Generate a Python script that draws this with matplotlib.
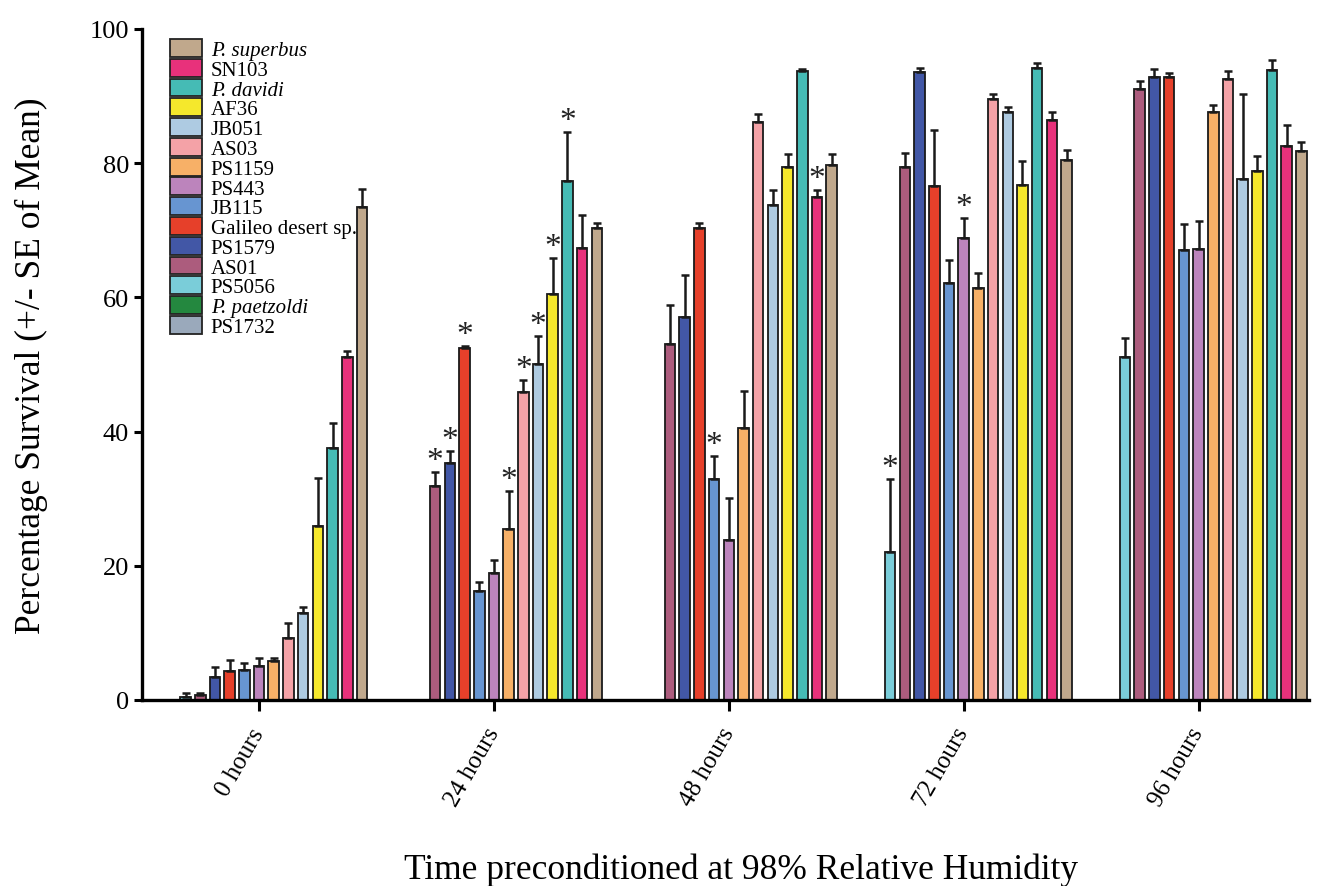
import numpy as np
import matplotlib.pyplot as plt
from matplotlib.patches import Patch

plt.rcParams['font.family'] = ['Liberation Serif', 'DejaVu Serif']

# 时间点
times = ['0 hours', '24 hours', '48 hours', '72 hours', '96 hours']

# 图例顺序（从上到下）
strains = ['P. superbus', 'SN103', 'P. davidi', 'AF36', 'JB051', 'AS03', 'PS1159',
           'PS443', 'JB115', 'Galileo desert sp.', 'PS1579', 'AS01', 'PS5056',
           'P. paetzoldi', 'PS1732']
colors = ['#C0A88C', '#E8317B', '#45BBB5', '#F5E82C', '#AECBE2', '#F4A2A7', '#F7B067',
          '#BC84BC', '#6795D1', '#E6402A', '#4257A6', '#AC5C7D', '#7ACDD9',
          '#24883F', '#9AA9BB']

nan = np.nan
# 平均存活率 (%)
surv_superbus = [73.4, 70.3, 79.7, 80.5, 81.8]
surv_sn103 = [51.1, 67.3, 75.0, 86.4, 82.6]
surv_davidi = [37.6, 77.3, 93.7, 94.2, 93.9]
surv_af36 = [25.9, 60.5, 79.4, 76.7, 78.8]
surv_jb051 = [12.9, 50.1, 73.8, 87.6, 77.7]
surv_as03 = [9.2, 45.9, 86.2, 89.6, 92.5]
surv_ps1159 = [5.8, 25.5, 40.6, 61.4, 87.6]
surv_ps443 = [5.1, 19.0, 23.9, 68.9, 67.2]
surv_jb115 = [4.5, 16.2, 33.0, 62.2, 67.0]
surv_galileo = [4.3, 52.5, 70.4, 76.6, 92.8]
surv_ps1579 = [3.5, 35.3, 57.1, 93.6, 92.9]
surv_as01 = [0.75, 31.9, 53.0, 79.5, 91.1]
surv_ps5056 = [0.5, nan, nan, 22.1, 51.1]
surv_paetzoldi = [nan, nan, nan, nan, nan]
surv_ps1732 = [nan, nan, nan, nan, nan]

# 标准误
se_superbus = [2.7, 0.8, 1.7, 1.4, 1.3]
se_sn103 = [0.9, 5.0, 1.0, 1.2, 3.1]
se_davidi = [3.7, 7.4, 0.4, 0.8, 1.5]
se_af36 = [7.2, 5.3, 2.0, 3.6, 2.2]
se_jb051 = [0.9, 4.2, 2.2, 0.8, 12.6]
se_as03 = [2.3, 1.8, 1.1, 0.7, 1.2]
se_ps1159 = [0.5, 5.6, 5.4, 2.2, 1.0]
se_ps443 = [1.1, 1.9, 6.2, 2.9, 4.2]
se_jb115 = [1.0, 1.4, 3.4, 3.3, 4.0]
se_galileo = [1.6, 0.3, 0.7, 8.3, 0.7]
se_ps1579 = [1.4, 1.8, 6.2, 0.6, 1.1]
se_as01 = [0.3, 2.1, 5.8, 2.0, 1.1]
se_ps5056 = [0.5, nan, nan, 10.9, 2.8]
se_paetzoldi = [nan, nan, nan, nan, nan]
se_ps1732 = [nan, nan, nan, nan, nan]

survival = [surv_superbus, surv_sn103, surv_davidi, surv_af36, surv_jb051, surv_as03,
            surv_ps1159, surv_ps443, surv_jb115, surv_galileo, surv_ps1579, surv_as01,
            surv_ps5056, surv_paetzoldi, surv_ps1732]
errors = [se_superbus, se_sn103, se_davidi, se_af36, se_jb051, se_as03, se_ps1159,
          se_ps443, se_jb115, se_galileo, se_ps1579, se_as01, se_ps5056, se_paetzoldi,
          se_ps1732]

# 显著性标记 (时间索引, 品系)
stars = [(1, 'AS01'), (1, 'PS1579'), (1, 'Galileo desert sp.'), (1, 'PS1159'),
         (1, 'AS03'), (1, 'JB051'), (1, 'AF36'), (1, 'P. davidi'),
         (2, 'JB115'), (2, 'SN103'), (3, 'PS5056'), (3, 'PS443')]

fig = plt.figure(figsize=(13.28, 8.87), dpi=100)
ax = fig.add_axes([0.107, 0.2097, 0.879, 0.7565])

x = np.arange(len(times))
n = len(strains)
slot = 0.0626
width = 0.045

# 绘图顺序：图例从下往上
for k, i in enumerate(range(n - 1, -1, -1)):
    offset = (k - (n - 1) / 2) * slot
    vals = np.array(survival[i], dtype=float)
    errs = np.array(errors[i], dtype=float)
    ok = ~np.isnan(vals)
    if not ok.any():
        continue
    ax.bar(x[ok] + offset, vals[ok], width, color=colors[i], edgecolor='#1a1a1a',
           linewidth=1.3, zorder=2)
    ax.errorbar(x[ok] + offset, vals[ok], yerr=[np.zeros(ok.sum()), errs[ok]],
                fmt='none', ecolor='#1a1a1a', elinewidth=1.8, capsize=3.2,
                capthick=1.8, zorder=3)

for t, name in stars:
    i = strains.index(name)
    k = n - 1 - i
    offset = (k - (n - 1) / 2) * slot
    top = survival[i][t] + errors[i][t]
    ax.text(t + offset, top - 0.6, '*', ha='center', va='bottom', fontsize=24,
            color='#222222')

ax.set_xlim(-0.498, 4.472)
ax.set_ylim(0, 100)
ax.set_yticks([0, 20, 40, 60, 80, 100])
ax.set_xticks(x)
ax.set_xticklabels(times, rotation=60, ha='right', va='center', rotation_mode='anchor',
                   fontsize=18)
ax.tick_params(axis='y', labelsize=19, width=2.2, length=6, direction='out')
ax.tick_params(axis='x', width=2.2, length=8, direction='out', pad=13)
for s in ['top', 'right']:
    ax.spines[s].set_visible(False)
for s in ['left', 'bottom']:
    ax.spines[s].set_linewidth(2.4)

ax.set_ylabel('Percentage Survival (+/- SE of Mean)', fontsize=25.5, labelpad=30)
ax.set_xlabel('Time preconditioned at 98% Relative Humidity', fontsize=25.5, labelpad=31)
ax.xaxis.label.set_x(0.513)

handles = [Patch(facecolor=c, edgecolor='#222222', linewidth=1.3) for c in colors]
leg = ax.legend(handles, strains, loc='upper left', bbox_to_anchor=(0.024, 0.985),
                frameon=False, fontsize=15, borderpad=0, borderaxespad=0,
                handlelength=1.55, handleheight=0.94, handletextpad=0.4,
                labelspacing=-0.063)
for txt in leg.get_texts():
    if txt.get_text().startswith('P. '):
        txt.set_fontstyle('italic')

plt.savefig('out.png', dpi=100, facecolor='white')
